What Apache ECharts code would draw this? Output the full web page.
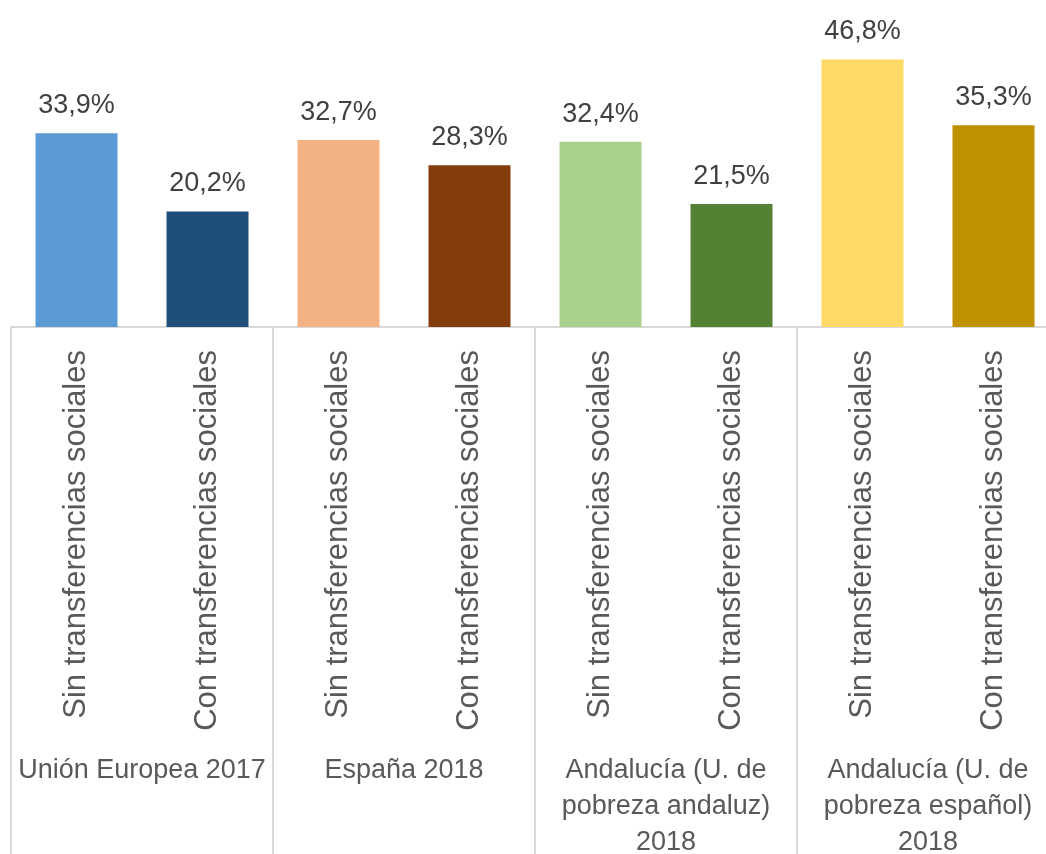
<!DOCTYPE html>
<html>
<head>
<meta charset="utf-8"/>
<title>Tasa de pobreza</title>
<script src="https://cdn.jsdelivr.net/npm/echarts@6/dist/echarts.min.js"></script>
<style>
    html, body {margin: 0; padding: 0; background: #fff;}
    #chart {width: 1046px; height: 854px;}
</style>
</head>
<body>
<div id="chart"></div>
<script>
    // datos
    var barNames = [
        'Sin transferencias sociales', 'Con transferencias sociales',
        'Sin transferencias sociales', 'Con transferencias sociales',
        'Sin transferencias sociales', 'Con transferencias sociales',
        'Sin transferencias sociales', 'Con transferencias sociales'
    ];
    var values = [33.9, 20.2, 32.7, 28.3, 32.4, 21.5, 46.8, 35.3];
    var groups = [
        'Unión Europea 2017',
        'España 2018',
        'Andalucía (U. de\npobreza andaluz)\n2018',
        'Andalucía (U. de\npobreza español)\n2018'
    ];
    var colors = ['#5B9BD5', '#1F4E79', '#F4B183', '#843C0C', '#A9D18E', '#548235', '#FFD966', '#BF9000'];

    var font = '"Liberation Sans", Arial, sans-serif';
    var barData = values.map(function (v, i) {
        return {value: v, itemStyle: {color: colors[i]}};
    });

    var myChart = echarts.init(document.getElementById('chart'));
    var option = {
        animation: false,
        grid: {left: 11, width: 1048, top: 0, bottom: 527, containLabel: false, outerBoundsMode: 'none'},
        xAxis: [
            {
                type: 'category',
                data: barNames,
                axisLine: {show: true, lineStyle: {color: '#D9D9D9', width: 2}},
                axisTick: {show: false},
                axisLabel: {
                    interval: 0,
                    rotate: 90,
                    margin: 23,
                    fontSize: 31,
                    fontFamily: font,
                    color: '#595959'
                }
            },
            {
                type: 'category',
                position: 'bottom',
                data: groups,
                axisLine: {show: false},
                axisTick: {show: true, interval: 0, length: 540, lineStyle: {color: '#D9D9D9', width: 2}},
                axisLabel: {
                    interval: 0,
                    margin: 426,
                    fontSize: 27,
                    lineHeight: 36,
                    fontFamily: font,
                    color: '#595959',
                    align: 'center'
                }
            }
        ],
        yAxis: {
            type: 'value',
            min: 0,
            max: 57.2,
            show: false,
            splitLine: {show: false}
        },
        series: [
            {
                type: 'bar',
                xAxisIndex: 0,
                barWidth: 82,
                data: barData,
                label: {
                    show: true,
                    position: 'top',
                    distance: 14,
                    fontSize: 27,
                    fontFamily: font,
                    color: '#404040',
                    formatter: function (p) {
                        return p.value.toFixed(1).replace('.', ',') + '%';
                    }
                }
            }
        ]
    };
    myChart.setOption(option);
</script>
</body>
</html>
